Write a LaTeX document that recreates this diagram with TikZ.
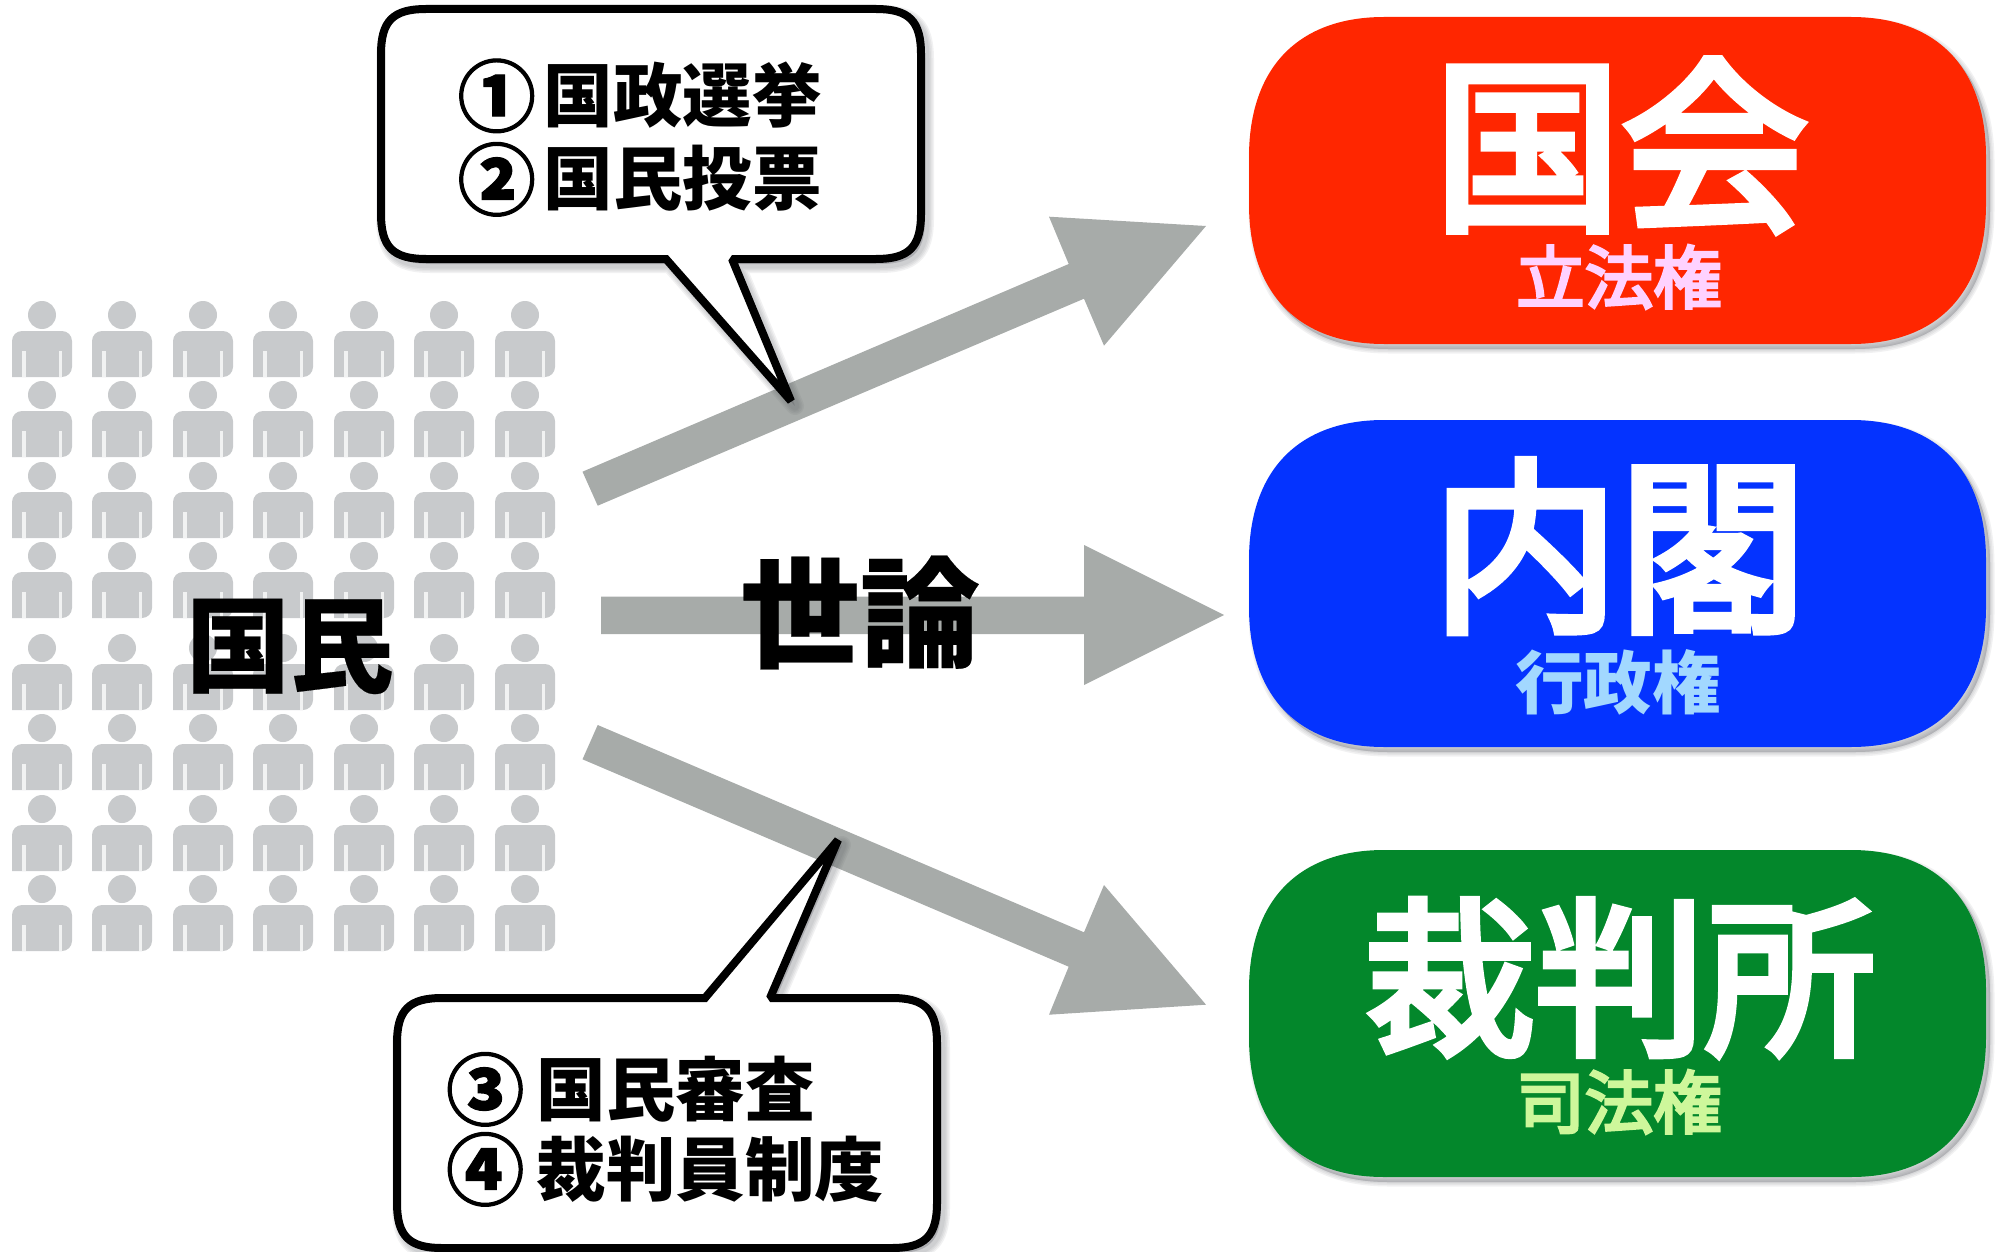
\documentclass[tikz,border=0pt]{standalone}
\usepackage{fontspec}
\setmainfont{Noto Sans CJK JP}
\newfontfamily\jpheavy{Noto Sans CJK JP}[BoldFeatures={FakeBold=0.2}]
\newfontfamily\jpcirc{Noto Sans CJK JP}[BoldFeatures={FakeBold=1.4}]
\newfontfamily\jpmed{Noto Sans CJK JP}[FakeBold=4.2]
\newfontfamily\jpsub{Noto Sans CJK JP}[FakeBold=4.2]
\definecolor{arrowgray}{HTML}{A7ABA9}
\definecolor{persongray}{HTML}{C8CACC}
\definecolor{slitgray}{HTML}{F1F2F2}
\definecolor{redbox}{HTML}{FF2600}
\definecolor{bluebox}{HTML}{0433FF}
\definecolor{greenbox}{HTML}{03872B}
\definecolor{pinktext}{HTML}{FFD2FF}
\definecolor{bluetext}{HTML}{A2D8FF}
\definecolor{greentext}{HTML}{CEF79B}
\definecolor{shadowgray}{HTML}{50525A}
\def\rrect#1#2#3#4{({#1+135},#2) -- ({#3-135},#2)
  .. controls ({#3-50},#2) and (#3,{#2+50}) .. (#3,{#2+140})
  -- (#3,{#4-140}) .. controls (#3,{#4-50}) and ({#3-50},#4) .. ({#3-135},#4)
  -- ({#1+135},#4) .. controls ({#1+50},#4) and (#1,{#4-50}) .. (#1,{#4-140})
  -- (#1,{#2+140}) .. controls (#1,{#2+50}) and ({#1+50},#2) .. ({#1+135},#2) -- cycle}
\def\calloutone{(426,9) -- (876,9) .. controls (909,9) and (921,21) .. (921,54)
  -- (921,214) .. controls (921,247) and (909,259) .. (876,259)
  -- (732,259) -- (791,401) -- (666,259)
  -- (426,259) .. controls (393,259) and (381,247) .. (381,214)
  -- (381,54) .. controls (381,21) and (393,9) .. (426,9) -- cycle}
\def\callouttwo{(442,998) -- (705,998) -- (838,840) -- (770,998)
  -- (892,998) .. controls (925,998) and (937,1010) .. (937,1043)
  -- (937,1203) .. controls (937,1236) and (925,1248) .. (892,1248)
  -- (442,1248) .. controls (409,1248) and (397,1236) .. (397,1203)
  -- (397,1043) .. controls (397,1010) and (409,998) .. (442,998) -- cycle}
\newcommand{\circnum}[2]{\raisebox{-4pt}{\jpcirc\bfseries\fontsize{78}{78}\selectfont #1}\hspace{#2}}
\tikzset{
  blockarrow/.style={fill=arrowgray,draw=none},
  bubble/.style={fill=white,draw=black,line width=8pt,miter limit=1.2,line join=miter},
  softshade/.style={draw=shadowgray,fill=shadowgray,opacity=0.08,shift={(4pt,-5pt)}},
  bigtext/.style={anchor=base,white,inner sep=0pt},
  subtext/.style={anchor=base,inner sep=0pt},
  linetext/.style={anchor=base west,inner sep=0pt,black,font=\bfseries\fontsize{69.5}{69.5}\selectfont},
  heavytext/.style={anchor=base,inner sep=0pt,black},
}
\begin{document}
\begin{tikzpicture}[x=1pt,y=-1pt]
\useasboundingbox (0,0) rectangle (2000,1252);
% people
\foreach \t in {301,381,462,542,634,714,795,875}{
  \foreach \c in {42,122,203,283,364,444,525}{
    \fill[persongray] (\c,{\t+14}) circle[radius=14pt];
    \fill[persongray,rounded corners=10pt] ({\c-30},{\t+76}) -- ({\c-30},{\t+30}) -- ({\c+30},{\t+30}) -- ({\c+30},{\t+76}) [sharp corners] -- cycle;
    \fill[slitgray] ({\c-20},{\t+50}) rectangle ({\c-16.5},{\t+76});
    \fill[slitgray] ({\c+16.5},{\t+50}) rectangle ({\c+20},{\t+76});
  }
}
% block arrows
\fill[blockarrow] (582.5,471.7) -- (1068.7,264) -- (1049,216.7) -- (1206,226) -- (1104,345.7) -- (1084,298.7) -- (597.7,505.7) -- cycle;
\fill[blockarrow] (601,596.7) -- (1084,596.7) -- (1084,545) -- (1224,615) -- (1084,685) -- (1084,634) -- (601,634) -- cycle;
\fill[blockarrow] (597.7,725) -- (1084,932.3) -- (1104,885) -- (1206,1004.7) -- (1049,1014.7) -- (1068.7,966.7) -- (582.5,759.3) -- cycle;
% coloured boxes
\foreach \w in {9,6,3,0.5}{
  \path[softshade,line width=\w pt] \rrect{1249}{17}{1986}{344};
  \path[softshade,line width=\w pt] \rrect{1249}{420}{1986}{747};
  \path[softshade,line width=\w pt] \rrect{1249}{850}{1986}{1177};
}
\fill[redbox] \rrect{1249}{17}{1986}{344};
\fill[bluebox] \rrect{1249}{420}{1986}{747};
\fill[greenbox] \rrect{1249}{850}{1986}{1177};
% callouts
\foreach \w in {18,15,12,9}{
  \path[softshade,line width=\w pt,line join=round] \calloutone;
  \path[softshade,line width=\w pt,line join=round] \callouttwo;
}
\path[bubble] \calloutone;
\path[bubble] \callouttwo;
% texts
\node[bigtext,font=\jpmed\fontsize{187}{187}\selectfont] (kokkai) at (1621,216) {国会};
\node[subtext,font=\jpsub\fontsize{68.5}{68.5}\selectfont,pinktext] (rippo) at (1619,303) {立法権};
\node[bigtext,font=\jpmed\fontsize{187}{187}\selectfont] (naikaku) at (1619,617) {内閣};
\node[subtext,font=\bfseries\fontsize{68.5}{68.5}\selectfont,bluetext] (gyosei) at (1618,708) {行政権};
\node[bigtext,font=\jpmed\fontsize{170}{170}\selectfont] (saibansho) at (1620,1042) {裁判所};
\node[subtext,font=\jpsub\fontsize{68.5}{68.5}\selectfont,greentext] (shiho) at (1619,1128) {司法権};
\node[heavytext,font=\jpheavy\bfseries\fontsize{104}{104}\selectfont] (kokumin) at (290,684) {国民};
\node[heavytext,font=\jpheavy\bfseries\fontsize{120}{120}\selectfont] (yoron) at (860,658) {世論};
\node[linetext] (l1) at (457.5,121.5) {\circnum{①}{8pt}国政選挙};
\node[linetext] (l2) at (457.5,205) {\circnum{②}{8pt}国民投票};
\node[linetext] (l3) at (446,1115) {\circnum{③}{12.5pt}国民審査};
\node[linetext] (l4) at (446,1195) {\circnum{④}{12.5pt}裁判員制度};
\end{tikzpicture}
\end{document}
